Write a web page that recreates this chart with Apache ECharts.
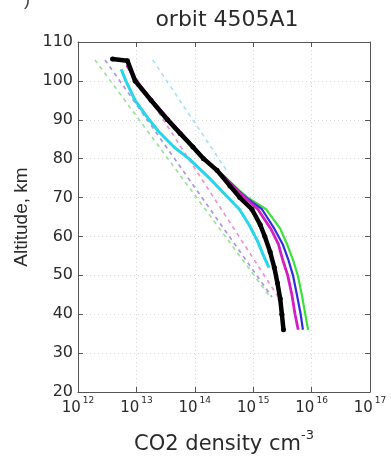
<!DOCTYPE html>
<html>
<head>
<meta charset="utf-8">
<script src="https://cdn.jsdelivr.net/npm/echarts@6/dist/echarts.min.js"></script>
<style>
html,body{margin:0;padding:0;background:#fff;}
#c{width:391px;height:461px;}
</style>
</head>
<body>
<div id="c"></div>
<script>
// ---- data ----
const titleText = 'orbit 4505A1';
const yTicks = [20, 30, 40, 50, 60, 70, 80, 90, 100, 110];
const xDecades = [1e12, 1e13, 1e14, 1e15, 1e16, 1e17];

const altBlack = [105.6, 105.2, 100, 95, 90, 86.5, 83, 80, 77, 73, 70, 67, 63, 60, 56, 52, 48, 44, 40, 36];
const denBlack = [3.9e12, 7.0e12, 9.5e12, 1.78e13, 3.4e13, 5.6e13, 9.3e13, 1.41e14, 2.4e14, 4.0e14, 5.9e14, 9.5e14, 1.32e15, 1.58e15, 1.95e15, 2.3e15, 2.6e15, 2.9e15, 3.1e15, 3.3e15];

const altCyan = [103, 100, 95, 90, 87, 83, 80, 75, 70, 67, 63, 59, 55, 52];
const denCyan = [5.5e12, 6.6e12, 9.5e12, 1.66e13, 2.4e13, 4.4e13, 7.9e13, 1.78e14, 3.7e14, 5.8e14, 8.5e14, 1.17e15, 1.51e15, 1.86e15];

const altOther = [104, 100, 95, 90, 85, 80, 76, 72, 70, 67, 62, 58, 54, 50, 45, 40, 36];
const denMagenta = [6.9e12, 1.0e13, 1.86e13, 3.6e13, 7.2e13, 1.45e14, 2.8e14, 5.2e14, 7.2e14, 1.2e15, 2.0e15, 2.7e15, 3.2e15, 3.9e15, 4.6e15, 5.2e15, 5.9e15];
const denBlue = [6.9e12, 1.0e13, 1.86e13, 3.6e13, 7.2e13, 1.45e14, 2.9e14, 5.4e14, 7.6e14, 1.41e15, 2.3e15, 3.2e15, 4.0e15, 4.8e15, 5.6e15, 6.5e15, 7.1e15];
const denGreen = [6.9e12, 1.0e13, 1.86e13, 3.6e13, 7.2e13, 1.45e14, 2.95e14, 5.6e14, 8.1e14, 1.66e15, 2.9e15, 3.8e15, 4.8e15, 5.8e15, 6.8e15, 7.8e15, 8.7e15];

// model profiles (dashed)
const altGreenDash = [105.4, 44.4];
const denGreenDash = [1.95e12, 1.95e15];
const altBlueDash = [105.4, 44.4];
const denBlueDash = [2.9e12, 2.1e15];
const altMagentaDash = [104, 44];
const denMagentaDash = [7.2e12, 2.8e15];
const altCyanDash = [105.4, 77];
const denCyanDash = [1.9e13, 3.5e14];

function pts(d, a) { return a.map((v, i) => [d[i], v]); }

const chart = echarts.init(document.getElementById('c'), null, {renderer: 'canvas'});

const WIDE = 'DejaVu Sans, sans-serif';
const FONT = 'Liberation Sans, Arial, sans-serif';
const txt = '#2a2a2a';
const axisCol = '#555';

function dashSeries(name, d, a, color) {
  return {
    name, type: 'line', data: pts(d, a), showSymbol: false, z: 2,
    lineStyle: {color, width: 1.7, type: [4, 4]}
  };
}
function solidSeries(name, d, a, color, width, z, sym) {
  return {
    name, type: 'line', data: pts(d, a), z,
    showSymbol: !!sym, symbol: 'circle', symbolSize: sym || 0,
    itemStyle: {color},
    lineStyle: {color, width}
  };
}

const option = {
  animation: false,
  backgroundColor: '#fff',
  title: {
    text: titleText, left: 222, top: 4, textAlign: 'center',
    textStyle: {fontFamily: WIDE, fontSize: 22, fontWeight: 'normal', color: txt}
  },
  graphic: [{
    type: 'text', left: 24, top: -9,
    style: {text: ')', fontFamily: FONT, fontSize: 18, fill: '#444'}
  }],
  grid: {left: 78, right: 21, top: 42, bottom: 69, containLabel: false},
  xAxis: [{
    type: 'log', logBase: 10, min: xDecades[0], max: xDecades[xDecades.length - 1],
    position: 'bottom',
    axisLine: {lineStyle: {color: axisCol, width: 1}},
    axisTick: {inside: true, length: 5, lineStyle: {color: axisCol}},
    splitLine: {show: true, lineStyle: {color: '#d8d8d8', type: [1, 3]}},
    axisLabel: {
      margin: 4,
      formatter: v => '{b|10}{s|' + Math.round(Math.log10(v)) + '}',
      rich: {
        b: {fontFamily: WIDE, fontSize: 15, color: txt, lineHeight: 20, verticalAlign: 'bottom'},
        s: {fontFamily: WIDE, fontSize: 9, color: txt, lineHeight: 20, verticalAlign: 'top', padding: [0, 0, 0, 2]}
      }
    },
    name: '{a|CO2 density cm}{s|-3}',
    nameLocation: 'middle', nameGap: 37,
    nameTextStyle: {
      rich: {
        a: {fontFamily: WIDE, fontSize: 21, color: txt, lineHeight: 26, verticalAlign: 'bottom'},
        s: {fontFamily: WIDE, fontSize: 13, color: txt, lineHeight: 26, verticalAlign: 'top'}
      }
    }
  }, {
    type: 'log', logBase: 10, min: xDecades[0], max: xDecades[xDecades.length - 1],
    position: 'top',
    axisLine: {lineStyle: {color: axisCol, width: 1}},
    axisTick: {inside: true, length: 5, lineStyle: {color: axisCol}},
    axisLabel: {show: false},
    splitLine: {show: false}
  }],
  yAxis: [{
    type: 'value', min: yTicks[0], max: yTicks[yTicks.length - 1], interval: 10,
    position: 'left',
    axisLine: {show: true, lineStyle: {color: axisCol, width: 1}},
    axisTick: {show: true, inside: true, length: 5, lineStyle: {color: axisCol}},
    splitLine: {show: true, lineStyle: {color: '#d8d8d8', type: [1, 3]}},
    axisLabel: {margin: 5, fontFamily: WIDE, fontSize: 16, color: txt},
    name: 'Altitude, km', nameLocation: 'middle', nameGap: 46, nameRotate: 90,
    nameTextStyle: {fontFamily: FONT, fontSize: 19, color: txt}
  }, {
    type: 'value', min: yTicks[0], max: yTicks[yTicks.length - 1], interval: 10,
    position: 'right',
    axisLine: {show: true, lineStyle: {color: axisCol, width: 1}},
    axisTick: {show: true, inside: true, length: 5, lineStyle: {color: axisCol}},
    axisLabel: {show: false},
    splitLine: {show: false}
  }],
  series: [
    dashSeries('green model', denGreenDash, altGreenDash, '#9be59b'),
    dashSeries('blue model', denBlueDash, altBlueDash, '#a996e6'),
    dashSeries('magenta model', denMagentaDash, altMagentaDash, '#ee93cf'),
    dashSeries('cyan model', denCyanDash, altCyanDash, '#a6e4f4'),
    solidSeries('green', denGreen, altOther, '#3ce03c', 2.2, 3),
    solidSeries('blue', denBlue, altOther, '#2e2ee0', 2.2, 4),
    solidSeries('magenta', denMagenta, altOther, '#d41ec4', 2.8, 5),
    solidSeries('cyan', denCyan, altCyan, '#26d6ea', 3, 6),
    solidSeries('black', denBlack, altBlack, '#000000', 4.5, 7, 5)
  ]
};
chart.setOption(option);
</script>
</body>
</html>
